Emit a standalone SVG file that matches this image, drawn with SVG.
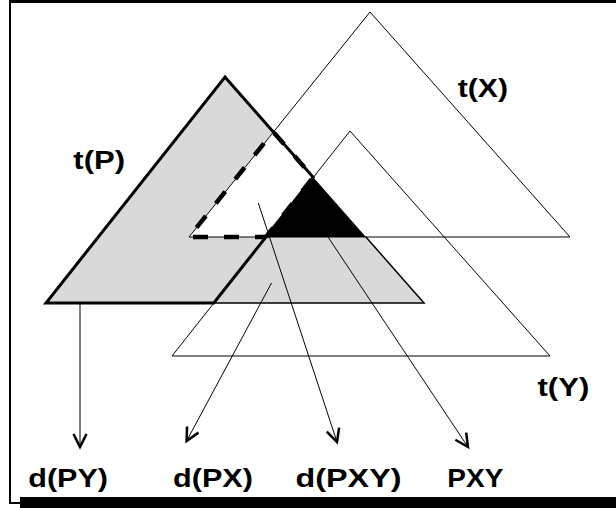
<svg xmlns="http://www.w3.org/2000/svg" width="616" height="508" viewBox="0 0 616 508">
<style>
.thin{fill:none;stroke:#000;stroke-width:1}
.thick{fill:none;stroke:#000;stroke-width:3;stroke-linejoin:miter}
.dash{fill:none;stroke:#000;stroke-width:4.5;stroke-dasharray:15 16;stroke-dashoffset:4}
.conn{fill:none;stroke:#000;stroke-width:1}
.lbl{font-family:"Liberation Sans",Arial,sans-serif;font-weight:bold;font-size:26.5px;fill:#000}
</style>
<defs>
<marker id="arr" markerUnits="userSpaceOnUse" markerWidth="20" markerHeight="20" refX="15" refY="10" orient="auto" overflow="visible">
<path d="M2,3.5 L15,10 L2,16.5" fill="none" stroke="#000" stroke-width="2.5"/>
</marker>
</defs>
<rect width="616" height="508" fill="#fff"/>
<g id="frame">
<polyline points="10,0 10,503 20,503" fill="none" stroke="#000" stroke-width="2"/>
<line x1="9" y1="1.5" x2="616" y2="1.5" stroke="#000" stroke-width="3"/>
<rect x="20" y="497" width="596" height="11" fill="#000"/>
</g>
<g id="tP">
<polygon points="225,77 46,303 424,303" fill="#d9d9d9"/>
</g>
<g id="white-region">
<polygon points="189,237 273.2,131.75 313.2,177.2 266,237" fill="#fff"/>
</g>
<g id="black-region">
<polygon points="313.2,177.2 266,237 365.9,237" fill="#000"/>
</g>
<g id="tX">
<polygon class="thin" points="370,12 189,237 570,237"/>
</g>
<g id="tY">
<polygon class="thin" points="350,131 172,356 550,356"/>
</g>
<g id="tP-outline">
<polyline points="365.9,237 424,303 213.8,303" fill="none" stroke="#000" stroke-width="1.5"/>
<polygon class="thick" points="213.8,303 46,303 225,77 313.2,177.2"/>
<path class="dash" d="M266,237 L189,237 L273.2,131.75 L313.2,177.2 L266,237"/>
</g>
<g id="connectors">
<line class="conn" x1="80" y1="303" x2="80" y2="447" marker-end="url(#arr)"/>
<line class="conn" x1="271.5" y1="283" x2="186.6" y2="441" marker-end="url(#arr)"/>
<line class="conn" x1="258.3" y1="203" x2="337" y2="442" marker-end="url(#arr)"/>
<line class="conn" x1="328" y1="237" x2="468" y2="447" marker-end="url(#arr)"/>
</g>
<g id="labels">
<text class="lbl" x="457.7" y="96.5" textLength="50.3" lengthAdjust="spacingAndGlyphs">t(X)</text>
<text class="lbl" x="73.3" y="169.3" textLength="51.7" lengthAdjust="spacingAndGlyphs">t(P)</text>
<text class="lbl" x="537.5" y="395.5" textLength="51.9" lengthAdjust="spacingAndGlyphs">t(Y)</text>
<text class="lbl" x="28.3" y="486.7" textLength="79.7" lengthAdjust="spacingAndGlyphs">d(PY)</text>
<text class="lbl" x="173" y="486.7" textLength="80" lengthAdjust="spacingAndGlyphs">d(PX)</text>
<text class="lbl" x="295.5" y="486.7" textLength="106" lengthAdjust="spacingAndGlyphs">d(PXY)</text>
<text class="lbl" x="447.3" y="486.7" textLength="56" lengthAdjust="spacingAndGlyphs">PXY</text>
</g>
</svg>
